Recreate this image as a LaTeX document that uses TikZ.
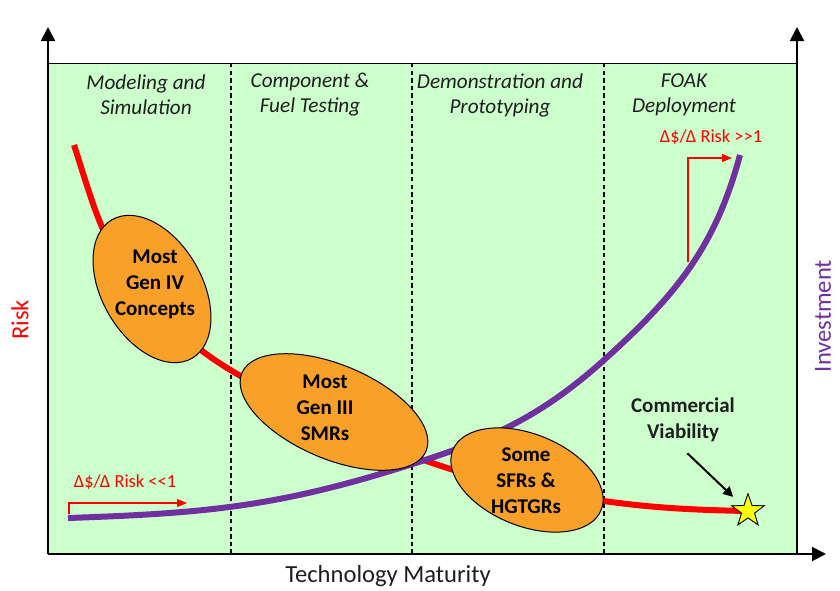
\documentclass[tikz,border=0pt]{standalone}
\usepackage{fontspec}
\setmainfont{Carlito}
\usetikzlibrary{shapes.geometric,arrows.meta,positioning}
\definecolor{trlgreen}{RGB}{204,255,204}
\definecolor{trlred}{RGB}{255,0,0}
\definecolor{trlpurple}{RGB}{112,48,160}
\definecolor{trlorange}{RGB}{248,160,40}
\definecolor{trlyellow}{RGB}{255,255,0}
\definecolor{trltext}{RGB}{30,30,30}

\begin{document}
\begin{tikzpicture}[x=0.5pt, y=0.5pt,
    axis/.style={line width=1pt, -{Triangle[width=7pt,length=7pt]}},
    divider/.style={line width=0.7pt, dash pattern=on 2.2pt off 1.6pt},
    phase/.style={font=\fontsize{10.6}{12.5}\selectfont\itshape, align=center, text=trltext},
    blob/.style={ellipse, draw=black, line width=0.5pt, fill=trlorange, inner sep=0pt, outer sep=0pt},
    blobtext/.style={font=\fontsize{10.5}{13}\selectfont\bfseries, align=center},
    riskline/.style={trlred, line width=3pt},
    costline/.style={trlpurple, line width=3pt},
    slope/.style={trlred, line width=0.6pt, -{Triangle[width=4pt,length=5pt]}},
    slopetext/.style={font=\fontsize{9.2}{10}\selectfont, text=trlred},
    axlabel/.style={font=\fontsize{12.3}{14}\selectfont}
]
\useasboundingbox (0,0) rectangle (840,-590);

% Background panel and phase dividers
\fill[trlgreen] (48,-63) rectangle (797,-554);
\draw[line width=0.5pt] (48,-63) -- (797,-63);
\foreach \x in {231,412,604} {
  \draw[divider] (\x,-63) -- (\x,-554);
}

% Axes
\draw[axis] (48,-554) -- (48,-27);
\draw[axis] (797,-554) -- (797,-27);
\draw[axis] (48,-554) -- (826,-554);

% Phase headings
\node[phase] (modsim) at (146,-95) {Modeling and\\Simulation};
\node[phase] (comptest) at (310,-95) {Component \&\\Fuel Testing};
\node[phase] (demoproto) at (500,-95) {Demonstration and\\Prototyping};
\node[phase] (foak) at (684,-95) {FOAK\\Deployment};

% Axis labels
\node[axlabel, text=trlred, rotate=90] (risk) at (20,-320) {Risk};
\node[axlabel, text=trlpurple, rotate=90] (invest) at (823,-316) {Investment};
\node[axlabel, text=trltext] (maturity) at (388,-576) {Technology Maturity};

% Waypoints of the two curves
\coordinate (r0) at (74,-145);
\coordinate (r1) at (144,-295);
\coordinate (r2) at (330,-420);
\coordinate (r3) at (528,-488);
\coordinate (i0) at (68,-518);
\coordinate (i1) at (390,-471);
\coordinate (i2) at (604,-360);
\coordinate (i3) at (740,-155);

\node[star, star points=5, star point ratio=2.5, minimum size=17pt, inner sep=0pt,
      draw=black, line width=0.4pt, fill=trlyellow] (viab) at (748,-511) {};

% Risk and investment curves
\draw[riskline] (r0) to[out=-72,in=130] (r1) to[out=-50,in=155] (r2)
  to[out=-25,in=169] (r3) to[out=-11,in=179] (viab.center);
\draw[costline] (i0) to[out=2,in=-163] (i1) to[out=17,in=-138] (i2)
  to[out=42,in=-105] (i3);
\node[star, star points=5, star point ratio=2.5, minimum size=17pt, inner sep=0pt,
      draw=black, line width=0.4pt, fill=trlyellow] at (viab) {};

% Reactor groups
\node[blob, minimum width=80pt, minimum height=50pt, rotate=-60] (geniv) at (152,-289) {};
\node[blobtext] (genivtext) at (155,-284) {Most\\Gen IV\\Concepts};
\node[blob, minimum width=100pt, minimum height=47pt, rotate=-23] (gen3) at (334,-412) {};
\node[blobtext] (gen3text) at (325,-408) {Most\\Gen III\\SMRs};
\node[blob, minimum width=80pt, minimum height=46pt, rotate=-22] (sfr) at (527,-480) {};
\node[blobtext] (sfrtext) at (526,-481) {Some\\SFRs \&\\HGTGRs};

% Slope markers
\coordinate (lowfoot) at (69,-514);
\coordinate (lowtip) at (187,-503);
\draw[slope] (lowfoot) |- (lowtip);
\node[slopetext] (lowratio) at (125,-482) {Δ\$/Δ Risk <{}<1};
\coordinate (highfoot) at (688,-262);
\coordinate (hightip) at (732,-158);
\draw[slope] (highfoot) |- (hightip);
\node[slopetext] (highratio) at (711,-137) {Δ\$/Δ Risk >{}>1};

% Commercial viability
\node[blobtext, text=trltext] (viabtext) at (683,-420) {Commercial\\Viability};
\draw[line width=1pt, -{Triangle[width=5pt,length=5pt]}, shorten <=3pt, shorten >=6pt] (viabtext.south) -- (viab);

\end{tikzpicture}
\end{document}
